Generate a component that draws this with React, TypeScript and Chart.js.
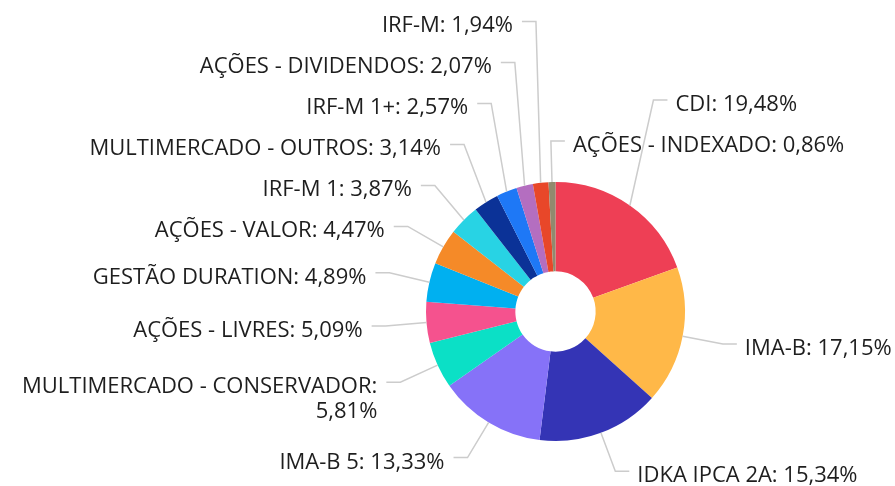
import React, { useEffect, useRef } from "react";
import { Chart, registerables } from "chart.js";

Chart.register(...registerables);

const categories: string[] = [
  "CDI",
  "IMA-B",
  "IDKA IPCA 2A",
  "IMA-B 5",
  "MULTIMERCADO - CONSERVADOR",
  "AÇÕES - LIVRES",
  "GESTÃO DURATION",
  "AÇÕES - VALOR",
  "IRF-M 1",
  "MULTIMERCADO - OUTROS",
  "IRF-M 1+",
  "AÇÕES - DIVIDENDOS",
  "IRF-M",
  "AÇÕES - INDEXADO",
];

const values: number[] = [19.48, 17.15, 15.34, 13.33, 5.81, 5.09, 4.89, 4.47, 3.87, 3.14, 2.57, 2.07, 1.94, 0.86];

const colors: string[] = [
  "#EE3F55",
  "#FFB848",
  "#3434B5",
  "#8672F8",
  "#0BE0C6",
  "#F5528E",
  "#00B0F0",
  "#F58A28",
  "#28D3E4",
  "#0B3297",
  "#1E78F6",
  "#B46EC0",
  "#E84729",
  "#918A6E",
];

const W = 895;
const H = 486;
const FONT_SIZE = 22;
const LINE_H = 25;
const FONT = `${FONT_SIZE}px "Open Sans"`;
const SPACING = 41;

const fmt = (v: number) => v.toFixed(2).replace(".", ",") + "%";

const outLabels = {
  id: "outLabels",
  afterDatasetsDraw(chart: any) {
    const meta = chart.getDatasetMeta(0);
    const ctx: CanvasRenderingContext2D = chart.ctx;
    ctx.save();
    ctx.font = FONT;
    const items = meta.data.map((arc: any, i: number) => {
      const p = arc.getProps(["x", "y", "startAngle", "endAngle", "outerRadius"], true);
      const mid = (p.startAngle + p.endAngle) / 2;
      const c = Math.cos(mid);
      const s = Math.sin(mid);
      const theta = (((mid * 180) / Math.PI + 90) % 360 + 360) % 360;
      const right = c > -0.04;
      const L = p.outerRadius + 41;
      const ex = p.x + L * c;
      const ny = p.y + L * s;
      const text = `${categories[i]}: ${fmt(values[i])}`;
      const tx = right ? ex + 14 + 8 : ex - 14 - 9;
      const avail = right ? W - tx : tx;
      const words = text.split(" ");
      const lines: string[] = [];
      let cur = "";
      for (const w of words) {
        const t = cur ? cur + " " + w : w;
        if (cur && ctx.measureText(t).width > avail) {
          lines.push(cur);
          cur = w;
        } else cur = t;
      }
      if (cur) lines.push(cur);
      return {
        ax: p.x + p.outerRadius * c,
        ay: p.y + p.outerRadius * s,
        ex,
        ny,
        y: ny,
        tx,
        right,
        theta,
        lines,
        upper: ny < p.y,
      };
    });

    const stack = (list: any[], up: boolean) => {
      let prev: any = null;
      for (const it of list) {
        if (!prev) it.y = it.ny;
        else if (up) it.y = Math.min(it.ny, prev.y - SPACING - (it.lines.length - 1) * LINE_H);
        else it.y = Math.max(it.ny, prev.y + SPACING + (prev.lines.length - 1) * LINE_H);
        prev = it;
      }
    };
    const rU = items.filter((d: any) => d.right && d.upper).sort((a: any, b: any) => b.theta - a.theta);
    const rL = items.filter((d: any) => d.right && !d.upper).sort((a: any, b: any) => a.theta - b.theta);
    const lU = items.filter((d: any) => !d.right && d.upper).sort((a: any, b: any) => a.theta - b.theta);
    const lL = items.filter((d: any) => !d.right && !d.upper).sort((a: any, b: any) => b.theta - a.theta);
    stack(rU, true);
    stack(rL, false);
    stack(lU, true);
    stack(lL, false);

    ctx.strokeStyle = "#cccccc";
    ctx.lineWidth = 1.5;
    for (const it of items) {
      ctx.beginPath();
      ctx.moveTo(it.ax, it.ay);
      ctx.lineTo(it.ex, it.y);
      ctx.lineTo(it.right ? it.ex + 14 : it.ex - 14, it.y);
      ctx.stroke();
    }
    ctx.fillStyle = "#1e1e1e";
    ctx.textBaseline = "alphabetic";
    for (const it of items) {
      ctx.textAlign = it.right ? "left" : "right";
      it.lines.forEach((ln: string, k: number) => {
        ctx.fillText(ln, it.tx, it.y + 11 + k * LINE_H);
      });
    }
    ctx.restore();
  },
};

export default function App() {
  const ref = useRef<HTMLCanvasElement | null>(null);
  useEffect(() => {
    if (!ref.current) return;
    const chart = new Chart(ref.current, {
      type: "doughnut",
      data: {
        labels: categories,
        datasets: [
          {
            data: values,
            backgroundColor: colors,
            borderWidth: 0,
          },
        ],
      },
      options: {
        responsive: false,
        maintainAspectRatio: false,
        animation: false,
        devicePixelRatio: 1,
        cutout: "31%",
        layout: { padding: { left: 426, right: 210, top: 182, bottom: 45 } },
        plugins: {
          legend: { display: false },
          tooltip: { enabled: false },
        },
      },
      plugins: [outLabels],
    });
    return () => chart.destroy();
  }, []);
  return (
    <div style={{ position: "absolute", left: 0, top: 0, width: W, height: H, background: "#fff" }}>
      <canvas ref={ref} width={W} height={H} style={{ width: W, height: H }} />
    </div>
  );
}
